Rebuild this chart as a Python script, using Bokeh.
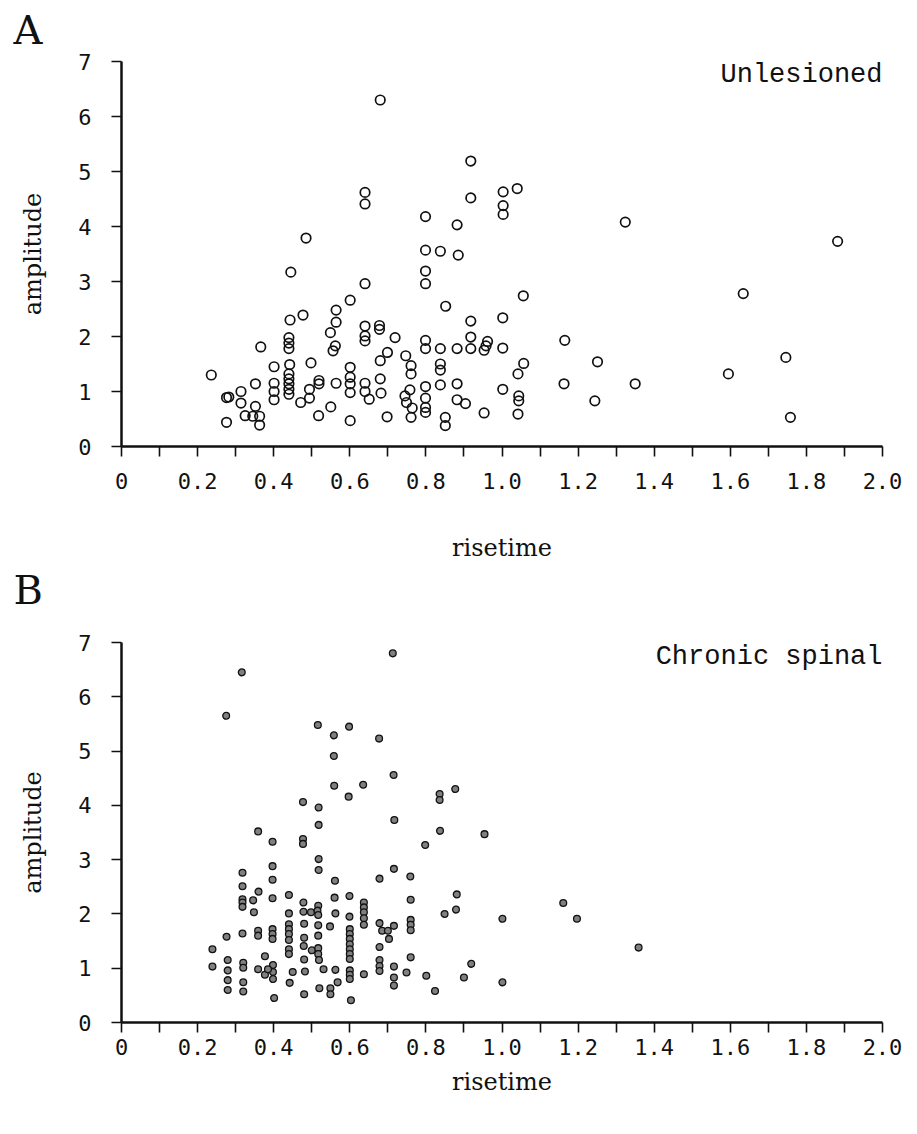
from bokeh.plotting import figure
from bokeh.layouts import column
from bokeh.models import Range1d, FixedTicker, Label, Title
from bokeh.embed import file_html
from bokeh.resources import INLINE

# ---------------- data ----------------
unlesioned_risetime = [
    0.236, 0.276, 0.282, 0.276, 0.314, 0.314, 0.325, 0.352, 0.352, 0.345, 0.363, 0.363,
    0.366, 0.401, 0.401, 0.401, 0.401, 0.443, 0.445, 0.44, 0.44, 0.44, 0.442,
    0.44, 0.44, 0.44, 0.44, 0.44, 0.477, 0.485, 0.471, 0.494, 0.494, 0.498,
    0.519, 0.519, 0.518, 0.549, 0.564, 0.564, 0.562, 0.556, 0.564, 0.550,
    0.601, 0.601, 0.601, 0.601, 0.601, 0.601, 0.640, 0.640, 0.640, 0.640, 0.640, 0.640,
    0.640, 0.640, 0.651, 0.680, 0.678, 0.678, 0.680, 0.680, 0.682, 0.699, 0.698,
    0.719, 0.747, 0.761, 0.761, 0.745, 0.749, 0.758, 0.764, 0.761,
    0.799, 0.799, 0.799, 0.799, 0.799, 0.799, 0.799, 0.799, 0.799, 0.799,
    0.838, 0.838, 0.838, 0.838, 0.838, 0.851, 0.851, 0.852,
    0.882, 0.885, 0.882, 0.882, 0.882, 0.904, 0.918, 0.918, 0.918, 0.918, 0.918,
    0.953, 0.953, 0.958, 0.962, 1.003, 1.003, 1.003, 1.040, 1.056, 1.002, 1.002,
    1.057, 1.042, 1.002, 1.044, 1.044, 1.042, 1.165, 1.163, 1.251, 1.244,
    1.324, 1.350, 1.595, 1.634, 1.746, 1.758, 1.882,
]
unlesioned_amplitude = [
    1.30, 0.89, 0.90, 0.44, 1.00, 0.79, 0.56, 1.14, 0.73, 0.55, 0.55, 0.39,
    1.81, 1.45, 1.15, 1.00, 0.85, 2.30, 3.17, 1.98, 1.88, 1.78, 1.49,
    1.32, 1.23, 1.14, 1.04, 0.95, 2.39, 3.79, 0.80, 1.04, 0.88, 1.52,
    1.20, 1.14, 0.56, 2.07, 2.48, 2.26, 1.83, 1.74, 1.15, 0.72,
    2.66, 1.44, 1.26, 1.14, 0.98, 0.47, 4.62, 4.41, 2.96, 2.19, 2.01, 1.92,
    1.15, 1.00, 0.86, 6.30, 2.20, 2.13, 1.56, 1.23, 0.97, 1.71, 0.54,
    1.98, 1.65, 1.47, 1.32, 0.92, 0.80, 1.03, 0.70, 0.53,
    4.18, 3.57, 3.19, 2.96, 1.93, 1.78, 1.09, 0.88, 0.71, 0.62,
    3.55, 1.78, 1.50, 1.39, 1.12, 0.53, 0.38, 2.55,
    4.03, 3.48, 1.78, 1.14, 0.85, 0.78, 5.19, 4.52, 2.28, 1.99, 1.78,
    0.61, 1.75, 1.83, 1.91, 4.63, 4.38, 4.22, 4.69, 2.74, 2.34, 1.79,
    1.51, 1.32, 1.04, 0.92, 0.83, 0.59, 1.93, 1.14, 1.54, 0.83,
    4.08, 1.14, 1.32, 2.78, 1.62, 0.53, 3.73,
]

chronic_risetime = [
    0.316, 0.275, 0.713, 0.516, 0.558, 0.598, 0.677, 0.558, 0.715, 0.559, 0.635, 0.597,
    0.477, 0.518, 0.518, 0.836, 0.836, 0.877, 0.717, 0.837, 0.954, 0.798, 0.359, 0.397,
    0.477, 0.477, 0.318, 0.397, 0.518, 0.518, 0.716, 0.678, 0.759, 0.561, 0.318, 0.397,
    0.360, 0.346, 0.318, 0.318, 0.318, 0.348, 0.397, 0.440, 0.440, 0.478, 0.478, 0.498,
    0.517, 0.515, 0.517, 0.560, 0.599, 0.562, 0.599, 0.637, 0.637, 0.637, 0.637, 0.637,
    0.678, 0.685, 0.700, 0.716, 0.703, 0.318, 0.359, 0.359, 0.397, 0.397, 0.397,
    0.440, 0.440, 0.440, 0.440, 0.480, 0.480, 0.517, 0.517, 0.548,
    0.600, 0.600, 0.600, 0.600, 0.600, 0.600, 0.600, 0.276, 0.239, 0.239,
    0.279, 0.279, 0.279, 0.279, 0.320, 0.320, 0.320, 0.320, 0.377, 0.359, 0.377,
    0.398, 0.398, 0.398, 0.385, 0.401, 0.440, 0.440, 0.442, 0.450, 0.479, 0.500,
    0.517, 0.517, 0.519, 0.480, 0.482, 0.480, 0.520, 0.531, 0.549, 0.549, 0.562,
    0.568, 0.600, 0.600, 0.600, 0.603, 0.637, 0.678, 0.678, 0.678, 0.678,
    0.716, 0.716, 0.716, 0.760, 0.881, 0.879, 0.849, 1.001, 1.161, 1.197, 1.359,
    0.760, 0.760, 0.760, 0.760, 0.749, 0.801, 0.824, 0.919, 0.900, 1.001,
]
chronic_amplitude = [
    6.45, 5.65, 6.80, 5.48, 5.29, 5.45, 5.23, 4.91, 4.56, 4.36, 4.38, 4.16,
    4.06, 3.96, 3.64, 4.21, 4.10, 4.30, 3.73, 3.53, 3.47, 3.27, 3.52, 3.33,
    3.38, 3.29, 2.76, 2.88, 3.01, 2.81, 2.83, 2.65, 2.69, 2.61, 2.51, 2.63,
    2.41, 2.25, 2.27, 2.21, 2.13, 2.03, 2.29, 2.35, 2.01, 2.21, 2.04, 2.03,
    2.15, 2.06, 1.98, 2.30, 2.33, 2.01, 1.95, 2.21, 2.12, 2.03, 1.92, 1.80,
    1.83, 1.69, 1.69, 1.78, 1.54, 1.64, 1.69, 1.60, 1.72, 1.63, 1.54,
    1.81, 1.72, 1.63, 1.52, 1.82, 1.56, 1.79, 1.60, 1.77,
    1.72, 1.63, 1.54, 1.44, 1.35, 1.26, 1.17, 1.58, 1.35, 1.03,
    1.15, 0.96, 0.78, 0.60, 1.10, 1.01, 0.74, 0.57, 1.22, 0.98, 0.88,
    1.06, 0.93, 0.80, 0.98, 0.45, 1.35, 1.26, 0.73, 0.93, 1.41, 1.33,
    1.37, 1.26, 1.15, 1.16, 0.94, 0.52, 0.63, 0.98, 0.63, 0.52, 0.97,
    0.74, 0.96, 0.88, 0.80, 0.41, 0.89, 1.39, 1.15, 1.04, 0.95,
    1.03, 0.83, 0.68, 2.26, 2.36, 2.08, 2.00, 1.91, 2.20, 1.91, 1.38,
    1.89, 1.80, 1.70, 1.20, 0.92, 0.86, 0.58, 1.08, 0.83, 0.74,
]

x_tick_values = [0.0, 0.2, 0.4, 0.6, 0.8, 1.0, 1.2, 1.4, 1.6, 1.8, 2.0]
x_tick_labels = ["0", "0.2", "0.4", "0.6", "0.8", "1.0", "1.2", "1.4", "1.6", "1.8", "2.0"]
x_minor_values = [0.1, 0.3, 0.5, 0.7, 0.9, 1.1, 1.3, 1.5, 1.7, 1.9]
y_tick_values = [0, 1, 2, 3, 4, 5, 6, 7]

panel_letters = ["A", "B"]
panel_titles = ["Unlesioned", "Chronic spinal"]
x_label = "risetime"
y_label = "amplitude"

TICK_FONT = "DejaVu Sans Mono"
LABEL_FONT = "DejaVu Serif"
TITLE_FONT = "Liberation Mono"
LETTER_SIZE = "40px"


def letter_title(text, offset, standoff, valign):
    return Title(text=text, text_font=LABEL_FONT, text_font_size=LETTER_SIZE,
                 text_font_style="normal", text_color="#111111", align="left",
                 vertical_align=valign, offset=offset, standoff=standoff)


def make_panel(xs, ys, title, height, b_left, b_right, b_top, b_bottom,
               filled, tick_standoff, xlabel_standoff, title_y):
    p = figure(width=917, height=height, output_backend="svg", toolbar_location=None,
               x_range=Range1d(0, 2.0), y_range=Range1d(0, 7),
               min_border_left=b_left, min_border_right=b_right,
               min_border_top=b_top, min_border_bottom=b_bottom)
    p.outline_line_color = None
    p.grid.visible = False
    p.background_fill_color = "white"
    p.border_fill_color = "white"

    if filled:
        p.scatter(xs, ys, marker="circle", size=6.8, fill_color="#808080",
                  line_color="#111111", line_width=1.3)
    else:
        p.scatter(xs, ys, marker="circle", size=9.5, fill_color=None,
                  line_color="#111111", line_width=1.7)

    xa = p.xaxis[0]
    xa.ticker = FixedTicker(ticks=x_tick_values, minor_ticks=x_minor_values)
    xa.major_label_overrides = dict(zip(x_tick_values, x_tick_labels))
    ya = p.yaxis[0]
    ya.ticker = FixedTicker(ticks=y_tick_values)

    for ax in (xa, ya):
        ax.axis_line_width = 2.5
        ax.axis_line_color = "#111111"
        ax.major_tick_line_width = 1.6
        ax.major_tick_line_color = "#111111"
        ax.minor_tick_line_width = 1.6
        ax.minor_tick_line_color = "#111111"
        ax.major_tick_in = 0
        ax.major_tick_out = 10
        ax.minor_tick_in = 0
        ax.minor_tick_out = 10
        ax.major_label_text_font = TICK_FONT
        ax.major_label_text_font_size = "22px"
        ax.major_label_text_color = "#111111"
        ax.axis_label_text_font = LABEL_FONT
        ax.axis_label_text_font_size = "24px"
        ax.axis_label_text_font_style = "normal"
        ax.axis_label_text_color = "#111111"
    ya.minor_tick_line_color = None

    xa.axis_label = x_label
    xa.major_label_standoff = tick_standoff
    xa.axis_label_standoff = xlabel_standoff
    ya.axis_label = y_label
    ya.major_label_standoff = 20
    ya.axis_label_standoff = 28

    p.add_layout(Label(x=2.0, y=title_y, text=title, text_font=TITLE_FONT,
                       text_font_size="27px", text_baseline="alphabetic", text_align="right",
                       text_color="#111111"))
    return p


pA = make_panel(unlesioned_risetime, unlesioned_amplitude, panel_titles[0],
                height=620, b_left=118, b_right=35, b_top=60, b_bottom=174,
                filled=False, tick_standoff=16, xlabel_standoff=42, title_y=6.76)
# letter A above panel A, letter B placed below panel A's x-axis label (i.e. above panel B)
pA.add_layout(letter_title(panel_letters[0], -108, 13, "top"), "above")
pA.add_layout(letter_title(panel_letters[1], -108, 0, "bottom"), "below")

pB = make_panel(chronic_risetime, chronic_amplitude, panel_titles[1],
                height=514, b_left=121, b_right=28, b_top=22, b_bottom=112,
                filled=True, tick_standoff=6, xlabel_standoff=10, title_y=6.74)

layout = column(pA, pB, spacing=0)
open("out.html", "w").write(file_html(layout, INLINE))
